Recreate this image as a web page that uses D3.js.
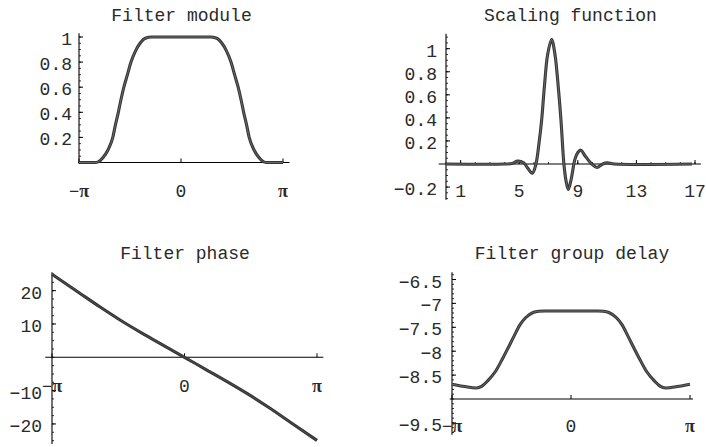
<!DOCTYPE html>
<html>
<head>
<meta charset="utf-8">
<script src="https://cdn.jsdelivr.net/npm/d3@7"></script>
<style>
  html, body { margin: 0; padding: 0; background: #fff; }
  svg text { font-family: "Liberation Mono", "Courier New", monospace; font-size: 18px; fill: #2a2a2a; }
  svg text.pi { font-family: "Liberation Serif", "DejaVu Serif", serif; font-weight: bold; }
</style>
</head>
<body>
<svg id="chart" width="706" height="447"></svg>
<script>
// ---- data ---------------------------------------------------------------
// Filter module |H(w)|, w in radians
const moduleW   = [-3.1416, -2.9, -2.65, -2.55, -2.4, -2.25, -2.1, -2.02, -1.93, -1.85, -1.76, -1.65, -1.54, -1.4, -1.26, -1.1, -0.9, 0,
                   0.9, 1.1, 1.26, 1.4, 1.54, 1.65, 1.76, 1.85, 1.93, 2.02, 2.1, 2.25, 2.4, 2.55, 2.65, 2.9, 3.1416];
const moduleVal = [0, 0, 0, 0.005, 0.04, 0.1, 0.2, 0.3, 0.4, 0.5, 0.6, 0.7, 0.8, 0.89, 0.95, 0.99, 1, 1,
                   1, 0.99, 0.95, 0.89, 0.8, 0.7, 0.6, 0.5, 0.4, 0.3, 0.2, 0.1, 0.04, 0.005, 0, 0, 0];

// Scaling function phi(t)
const scalingT   = [0, 4.0, 4.5, 4.9, 5.3, 5.6, 5.9, 6.14, 6.35, 6.53, 6.71, 6.94, 7.21, 7.44, 7.67, 7.85, 8.05, 8.2, 8.35, 8.55, 8.8, 9.0, 9.2, 9.5, 9.95, 10.3, 10.7, 11.0, 11.5, 16.8];
const scalingVal = [0, 0, 0.005, 0.025, 0.01, -0.04, -0.08, 0, 0.18, 0.38, 0.66, 0.95, 1.08, 0.95, 0.66, 0.38, 0, -0.15, -0.22, -0.13, 0.04, 0.1, 0.12, 0.07, 0, -0.03, 0, 0.01, 0, 0];

// Filter phase (radians)
const phaseW   = [-3.1416, -2.5, -2.0, -1.5, -1.0, -0.5, 0, 0.5, 1.0, 1.5, 2.0, 2.5, 3.1416];
const phaseVal = [24.95, 19.4, 15.08, 10.98, 7.2, 3.6, 0, -3.6, -7.2, -10.98, -15.08, -19.4, -24.95];

// Filter group delay
const delayW   = [-3.1416, -2.8, -2.5, -2.35, -2.2, -2.0, -1.79, -1.5, -1.35, -1.2, -1.0, -0.85, -0.7, 0,
                  0.7, 0.85, 1.0, 1.2, 1.35, 1.5, 1.79, 2.0, 2.2, 2.35, 2.5, 2.8, 3.1416];
const delayVal = [-8.69, -8.74, -8.77, -8.73, -8.62, -8.43, -8.13, -7.68, -7.45, -7.3, -7.19, -7.165, -7.16, -7.16,
                  -7.16, -7.165, -7.19, -7.3, -7.45, -7.68, -8.13, -8.43, -8.62, -8.73, -8.77, -8.74, -8.69];

// tick labels
const piTicks       = [-Math.PI, 0, Math.PI];
const piTickLabels  = ["−π", "0", "π"];
const moduleYTicks  = [0.2, 0.4, 0.6, 0.8, 1];
const scalingXTicks = [1, 5, 9, 13, 17];
const scalingYTicks = [-0.2, 0.2, 0.4, 0.6, 0.8, 1];
const phaseYTicks   = [-20, -10, 10, 20];
const delayYTicks   = [-9.5, -8.5, -8, -7.5, -7, -6.5];

const titles = ["Filter module", "Scaling function", "Filter phase", "Filter group delay"];

// ---- drawing ------------------------------------------------------------
const svg = d3.select("#chart");

const fmt = v => {
  let s = String(v);
  if (s.startsWith("-")) s = "−" + s.slice(1);
  return s;
};

function panel(cfg) {
  const g = svg.append("g");
  const x = d3.scaleLinear().domain(cfg.xDomain).range(cfg.xRange);
  const y = d3.scaleLinear().domain(cfg.yDomain).range(cfg.yRange);
  const ax = x(cfg.origin[0]), ay = y(cfg.origin[1]);

  // title
  g.append("text").attr("x", cfg.titleX).attr("y", cfg.titleY)
    .attr("text-anchor", "middle").text(cfg.title);

  // axis lines
  g.append("line").attr("x1", x(cfg.xAxisExtent[0])).attr("x2", x(cfg.xAxisExtent[1]))
    .attr("y1", ay).attr("y2", ay).attr("stroke", "#000").attr("stroke-width", 1.1);
  g.append("line").attr("x1", ax).attr("x2", ax)
    .attr("y1", y(cfg.yAxisExtent[0])).attr("y2", y(cfg.yAxisExtent[1]))
    .attr("stroke", "#000").attr("stroke-width", 1.1);

  // minor y ticks
  const yMin = d3.range(cfg.yMinor[0], cfg.yMinor[1] + 1e-9, cfg.yMinor[2]);
  g.selectAll(null).data(yMin).join("line")
    .attr("x1", ax).attr("x2", ax + 2)
    .attr("y1", d => y(d)).attr("y2", d => y(d))
    .attr("stroke", "#000").attr("stroke-width", 0.8);
  // major y ticks
  g.selectAll(null).data(cfg.yTicks).join("line")
    .attr("x1", ax).attr("x2", ax + 4)
    .attr("y1", d => y(d)).attr("y2", d => y(d))
    .attr("stroke", "#000").attr("stroke-width", 1);
  g.selectAll(null).data(cfg.yTicks).join("text")
    .attr("x", ax - cfg.yLabelGap).attr("y", d => y(d) + cfg.yLabelDy)
    .attr("text-anchor", "end").text(d => fmt(d));

  // x ticks
  if (cfg.xMinor) {
    const xMin = d3.range(cfg.xMinor[0], cfg.xMinor[1] + 1e-9, cfg.xMinor[2]);
    g.selectAll(null).data(xMin).join("line")
      .attr("x1", d => x(d)).attr("x2", d => x(d))
      .attr("y1", ay).attr("y2", ay - 2)
      .attr("stroke", "#000").attr("stroke-width", 0.8);
  }
  g.selectAll(null).data(cfg.xTicks).join("line")
    .attr("x1", d => x(d)).attr("x2", d => x(d))
    .attr("y1", ay).attr("y2", ay - 4)
    .attr("stroke", "#000").attr("stroke-width", 1);
  g.selectAll(null).data(cfg.xTicks).join("text")
    .attr("class", (d, i) => cfg.xLabels[i].includes("π") ? "pi" : null)
    .attr("x", d => x(d)).attr("y", ay + cfg.xLabelDy)
    .attr("text-anchor", "middle").text((d, i) => cfg.xLabels[i]);

  // curve: thick dark stroke with a lighter core
  const pts = cfg.xs.map((v, i) => [v, cfg.ys[i]]);
  const line = d3.line().x(d => x(d[0])).y(d => y(d[1])).curve(cfg.curve);
  g.append("path").attr("d", line(pts)).attr("fill", "none")
    .attr("stroke", "#353535").attr("stroke-width", 3.1).attr("stroke-linejoin", "round");
  g.append("path").attr("d", line(pts)).attr("fill", "none")
    .attr("stroke", cfg.inner).attr("stroke-width", 0.9).attr("stroke-linejoin", "round");
}

panel({
  title: titles[0], titleX: 181.5, titleY: 21,
  xDomain: [-Math.PI, Math.PI], xRange: [79, 283],
  yDomain: [0, 1], yRange: [162.5, 37],
  origin: [-Math.PI, 0],
  xAxisExtent: [-Math.PI - 0.03, Math.PI + 0.2], yAxisExtent: [-0.01, 1.03],
  yTicks: moduleYTicks, yMinor: [0.05, 1.0, 0.05], yLabelGap: 7, yLabelDy: 8,
  xTicks: piTicks, xLabels: piTickLabels, xLabelDy: 34,
  xs: moduleW, ys: moduleVal, curve: d3.curveMonotoneX, inner: "#707070"
});

panel({
  title: titles[1], titleX: 570.5, titleY: 21,
  xDomain: [0, 17], xRange: [446, 695],
  yDomain: [0, 1], yRange: [164, 48.7],
  origin: [0, 0],
  xAxisExtent: [-0.5, 17.4], yAxisExtent: [-0.31, 1.13],
  yTicks: scalingYTicks, yMinor: [-0.3, 1.1, 0.05], yLabelGap: 9, yLabelDy: 8,
  xTicks: scalingXTicks, xLabels: scalingXTicks.map(String), xLabelDy: 33,
  xMinor: [0, 17, 1],
  xs: scalingT, ys: scalingVal, curve: d3.curveCatmullRom.alpha(0.5), inner: "#707070"
});

panel({
  title: titles[2], titleX: 185, titleY: 259,
  xDomain: [-Math.PI, Math.PI], xRange: [52, 317],
  yDomain: [0, 25], yRange: [357.3, 274],
  origin: [-Math.PI, 0],
  xAxisExtent: [-Math.PI - 0.16, Math.PI + 0.15], yAxisExtent: [-26, 25.5],
  yTicks: phaseYTicks, yMinor: [-25, 25, 2.5], yLabelGap: 10, yLabelDy: 8,
  xTicks: piTicks, xLabels: piTickLabels, xLabelDy: 35,
  xs: phaseW, ys: phaseVal, curve: d3.curveMonotoneX, inner: "#505050"
});

panel({
  title: titles[3], titleX: 572, titleY: 259,
  xDomain: [-Math.PI, Math.PI], xRange: [452, 690],
  yDomain: [-9, -6.5], yRange: [399, 279.5],
  origin: [-Math.PI, -9],
  xAxisExtent: [-Math.PI - 0.06, Math.PI + 0.08], yAxisExtent: [-9.75, -6.35],
  yTicks: delayYTicks, yMinor: [-9.7, -6.4, 0.1], yLabelGap: 10, yLabelDy: 8,
  xTicks: piTicks, xLabels: piTickLabels, xLabelDy: 33,
  xs: delayW, ys: delayVal, curve: d3.curveMonotoneX, inner: "#707070"
});
</script>
</body>
</html>
